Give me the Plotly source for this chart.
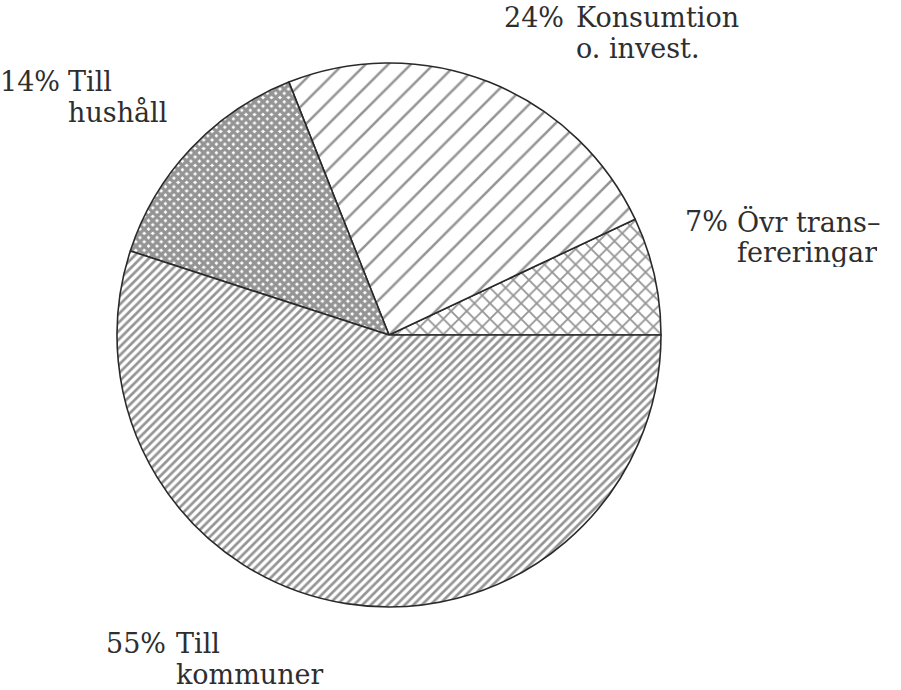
import plotly.graph_objects as go

labels = ["Övr transfereringar", "Konsumtion o. invest.", "Till hushåll", "Till kommuner"]
values = [7, 24, 14, 55]
pct_text = ["7%", "24%", "14%", "55%"]
name_lines = [["Övr trans–", "fereringar"], ["Konsumtion", "o. invest."], ["Till", "hushåll"], ["Till", "kommuner"]]

W, H = 901, 690
cx, cy, r = 389, 335, 272

ink = "#2a2a2a"
fig = go.Figure(go.Pie(
    labels=labels,
    values=values,
    sort=False,
    direction="counterclockwise",
    rotation=90 - 360 * values[0] / sum(values),
    textinfo="none",
    hoverinfo="label+percent",
    marker=dict(
        colors=["white"] * 4,
        line=dict(color=ink, width=1.6),
        pattern=dict(
            shape=["x", "/", "x", "/"],
            size=[11, 16, 6, 6],
            solidity=[0.3, 0.16, 0.8, 0.45],
            fgcolor=ink,
            bgcolor="white",
            fillmode="overlay",
        ),
    ),
    domain=dict(x=[(cx - r) / W, (cx + r) / W], y=[(H - cy - r) / H, (H - cy + r) / H]),
    showlegend=False,
))

font = dict(family="DejaVu Serif, serif", size=27, color="#2e2e2e")
# (pct x, name x, first baseline y) in pixels
pos = [(686, 738, 230), (505, 577, 26), (1, 69, 90), (107, 177, 652)]
line_gap = 31
for (px, nx, by), p, lines in zip(pos, pct_text, name_lines):
    yc = by - 9
    fig.add_annotation(x=px / W, y=1 - yc / H, xref="paper", yref="paper", text=p,
                       showarrow=False, xanchor="left", yanchor="middle", font=font,
                       xshift=-2, height=30, borderpad=0)
    for i, ln in enumerate(lines):
        fig.add_annotation(x=nx / W, y=1 - (yc + i * line_gap) / H, xref="paper", yref="paper",
                           text=ln, showarrow=False, xanchor="left", yanchor="middle",
                           font=font, xshift=-2, height=30, borderpad=0)

fig.update_layout(width=W, height=H, margin=dict(l=0, r=0, t=0, b=0),
                  paper_bgcolor="white", plot_bgcolor="white")
fig.write_html("out.html", config={"displayModeBar": False},
               post_script="document.body.style.margin='0';")
